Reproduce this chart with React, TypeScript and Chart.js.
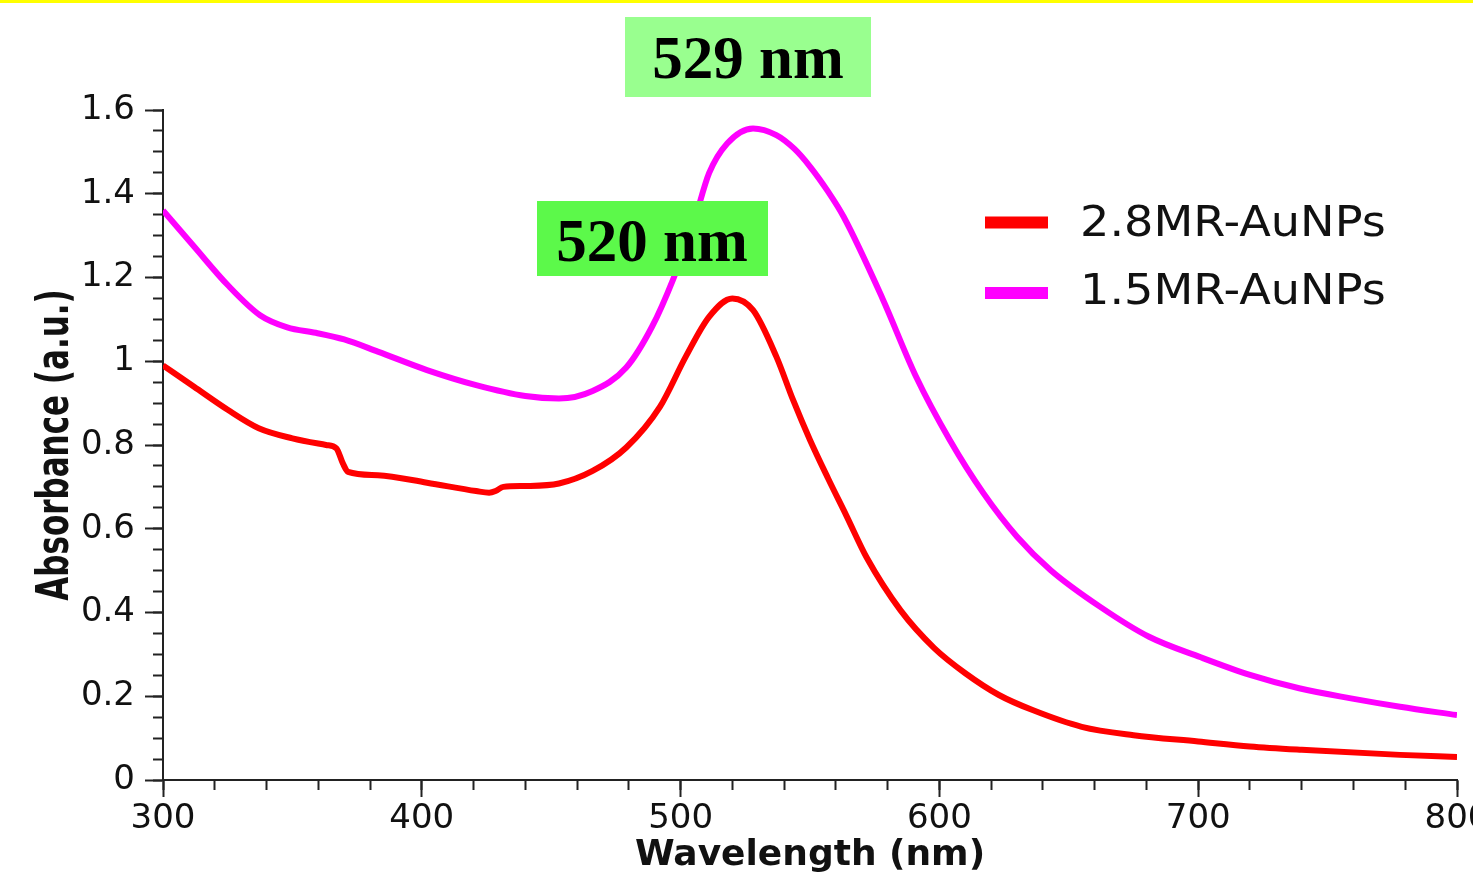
import React, { useEffect, useRef } from 'react';
import { Chart, registerables } from 'chart.js';

Chart.register(...registerables);

// ---- data ----
const wavelengthRed = [300, 312, 325, 337, 350, 363, 367, 369.5, 371.5, 383, 402, 421, 426, 428.5, 431.5, 440, 453, 466, 479, 492, 502, 511, 520, 528, 537, 543.5, 550, 557, 564, 572, 585, 598, 610, 623, 636, 655, 675, 700, 720, 740, 778, 800];
const absorbanceRed = [0.99, 0.939, 0.884, 0.84, 0.816, 0.8, 0.792, 0.756, 0.736, 0.728, 0.71, 0.69, 0.686, 0.69, 0.7, 0.702, 0.708, 0.738, 0.794, 0.891, 1.011, 1.106, 1.15, 1.122, 1.011, 0.907, 0.812, 0.72, 0.632, 0.53, 0.405, 0.315, 0.255, 0.203, 0.167, 0.127, 0.107, 0.092, 0.08, 0.072, 0.06, 0.055];

const wavelengthMagenta = [300, 312, 325, 337.5, 348, 359, 370, 383, 402, 421, 440, 453, 466, 479, 489, 497, 505, 511, 518, 528, 537, 544, 550, 557, 563, 578, 591, 604, 617, 630, 643, 662, 681, 701, 720, 739, 759, 778, 800];
const absorbanceMagenta = [1.36, 1.274, 1.182, 1.11, 1.081, 1.068, 1.052, 1.023, 0.979, 0.943, 0.917, 0.911, 0.929, 0.985, 1.083, 1.194, 1.329, 1.449, 1.52, 1.556, 1.54, 1.507, 1.465, 1.405, 1.345, 1.15, 0.963, 0.812, 0.685, 0.581, 0.501, 0.414, 0.342, 0.293, 0.251, 0.219, 0.195, 0.175, 0.155];

const seriesLabels = ['2.8MR-AuNPs', '1.5MR-AuNPs'];
const seriesColors = ['#ff0000', '#ff00ff'];

const xTickValues = [300, 400, 500, 600, 700, 800];
const xTickLabels = ['300', '400', '500', '600', '700', '800'];
const yTickValues = [0, 0.2, 0.4, 0.6, 0.8, 1, 1.2, 1.4, 1.6];
const yTickLabels = ['0', '0.2', '0.4', '0.6', '0.8', '1', '1.2', '1.4', '1.6'];

const xAxisTitle = 'Wavelength (nm)';
const yAxisTitle = 'Absorbance (a.u.)';
const peakLabels = ['529 nm', '520 nm'];

const CANVAS_W = 1540;
const CANVAS_H = 874;
const PLOT_RIGHT = 1457;

export default function App() {
  const ref = useRef<HTMLCanvasElement>(null);

  useEffect(() => {
    const canvas = ref.current;
    if (!canvas) return;

    const decor = {
      id: 'decor',
      beforeDraw(chart: any) {
        const ctx = chart.ctx;
        ctx.save();
        ctx.fillStyle = '#ffff00';
        ctx.fillRect(0, 0, chart.width, 3);
        ctx.restore();
      },
      afterDatasetsDraw(chart: any) {
        const ctx = chart.ctx;
        ctx.save();
        // peak annotation boxes
        ctx.fillStyle = '#99ff8f';
        ctx.fillRect(625, 17, 246, 80);
        ctx.fillStyle = '#5cf94a';
        ctx.fillRect(537, 201, 231, 75);
        ctx.fillStyle = '#000';
        ctx.font = 'bold 61px "Liberation Serif"';
        ctx.textAlign = 'center';
        ctx.textBaseline = 'alphabetic';
        ctx.fillText(peakLabels[0], 748, 78);
        ctx.fillText(peakLabels[1], 652, 261);

        // legend
        const rows = [222.5, 293];
        const baselines = [236, 304];
        chart.data.datasets.forEach((ds: any, i: number) => {
          ctx.strokeStyle = ds.borderColor;
          ctx.lineWidth = 12;
          ctx.lineCap = 'butt';
          ctx.beginPath();
          ctx.moveTo(985, rows[i]);
          ctx.lineTo(1048, rows[i]);
          ctx.stroke();
          ctx.save();
          ctx.translate(1080, baselines[i]);
          ctx.scale(1.1, 1);
          ctx.fillStyle = '#111';
          ctx.font = '42px "DejaVu Sans"';
          ctx.textAlign = 'left';
          ctx.textBaseline = 'alphabetic';
          ctx.fillText(ds.label, 0, 0);
          ctx.restore();
        });

        // y axis title
        const area = chart.chartArea;
        ctx.save();
        ctx.translate(56, (area.top + area.bottom) / 2);
        ctx.rotate(-Math.PI / 2);
        ctx.scale(1, 1.45);
        ctx.fillStyle = '#111';
        ctx.font = 'bold 31px "DejaVu Sans"';
        ctx.textAlign = 'center';
        ctx.textBaseline = 'middle';
        ctx.fillText(yAxisTitle, 0, 0);
        ctx.restore();
        ctx.restore();
      },
    };

    const tickFont = { family: 'DejaVu Sans', size: 34 };

    const chart = new Chart(canvas, {
      type: 'line',
      data: {
        datasets: [
          {
            label: seriesLabels[0],
            data: wavelengthRed.map((x, i) => ({ x, y: absorbanceRed[i] })),
            borderColor: seriesColors[0],
            backgroundColor: seriesColors[0],
            borderWidth: 6,
            pointRadius: 0,
            cubicInterpolationMode: 'monotone',
            fill: false,
          },
          {
            label: seriesLabels[1],
            data: wavelengthMagenta.map((x, i) => ({ x, y: absorbanceMagenta[i] })),
            borderColor: seriesColors[1],
            backgroundColor: seriesColors[1],
            borderWidth: 6,
            pointRadius: 0,
            cubicInterpolationMode: 'monotone',
            fill: false,
          },
        ],
      },
      options: {
        responsive: false,
        animation: false,
        devicePixelRatio: 1,
        events: [],
        layout: { padding: { left: 0, top: 110, right: CANVAS_W - PLOT_RIGHT, bottom: 0 } },
        plugins: { legend: { display: false }, tooltip: { enabled: false } },
        scales: {
          x: {
            type: 'linear',
            position: 'bottom',
            min: 300,
            max: 800,
            afterBuildTicks: (s: any) => {
              s.ticks = xTickValues.map((v) => ({ value: v }));
            },
            ticks: {
              callback: (_v: any, i: number) => xTickLabels[i],
              color: '#111',
              font: tickFont,
              padding: 2,
              maxRotation: 0,
              autoSkip: false,
            },
            grid: { drawOnChartArea: false, drawTicks: true, tickLength: 17, tickColor: '#222', tickWidth: 2 },
            border: { display: true, color: '#222', width: 2 },
            title: {
              display: true,
              text: xAxisTitle,
              color: '#111',
              font: { family: 'DejaVu Sans', size: 36, weight: 'bold', lineHeight: 1 },
              padding: { top: 0, bottom: 0 },
            },
            afterFit: (s: any) => {
              s.height = CANVAS_H - 780;
            },
          },
          y: {
            type: 'linear',
            position: 'left',
            min: 0,
            max: 1.6,
            afterBuildTicks: (s: any) => {
              s.ticks = yTickValues.map((v) => ({ value: v }));
            },
            ticks: {
              callback: (_v: any, i: number) => yTickLabels[i],
              color: '#111',
              font: tickFont,
              padding: 10,
              autoSkip: false,
            },
            grid: { drawOnChartArea: false, drawTicks: true, tickLength: 18, tickColor: '#222', tickWidth: 2 },
            border: { display: true, color: '#222', width: 2 },
            afterFit: (s: any) => {
              s.width = 163;
            },
          },
          xMinor: {
            type: 'linear',
            axis: 'x',
            position: { y: 0 },
            min: 300,
            max: 800,
            ticks: { stepSize: 20, display: false, autoSkip: false },
            grid: { drawOnChartArea: false, drawTicks: true, tickLength: 10, tickColor: '#222', tickWidth: 2 },
            border: { display: false },
          },
          yMinor: {
            type: 'linear',
            axis: 'y',
            position: { x: 300 },
            min: 0,
            max: 1.6,
            ticks: { stepSize: 0.05, display: false, autoSkip: false },
            grid: { drawOnChartArea: false, drawTicks: true, tickLength: 10, tickColor: '#222', tickWidth: 2 },
            border: { display: false },
          },
        },
      } as any,
      plugins: [decor],
    });

    return () => chart.destroy();
  }, []);

  return (
    <div
      style={{
        position: 'fixed',
        left: 0,
        top: 0,
        width: 1473,
        height: 874,
        overflow: 'hidden',
        background: '#ffffff',
      }}
    >
      <canvas
        ref={ref}
        width={CANVAS_W}
        height={CANVAS_H}
        style={{ display: 'block', width: CANVAS_W, height: CANVAS_H }}
      />
    </div>
  );
}
